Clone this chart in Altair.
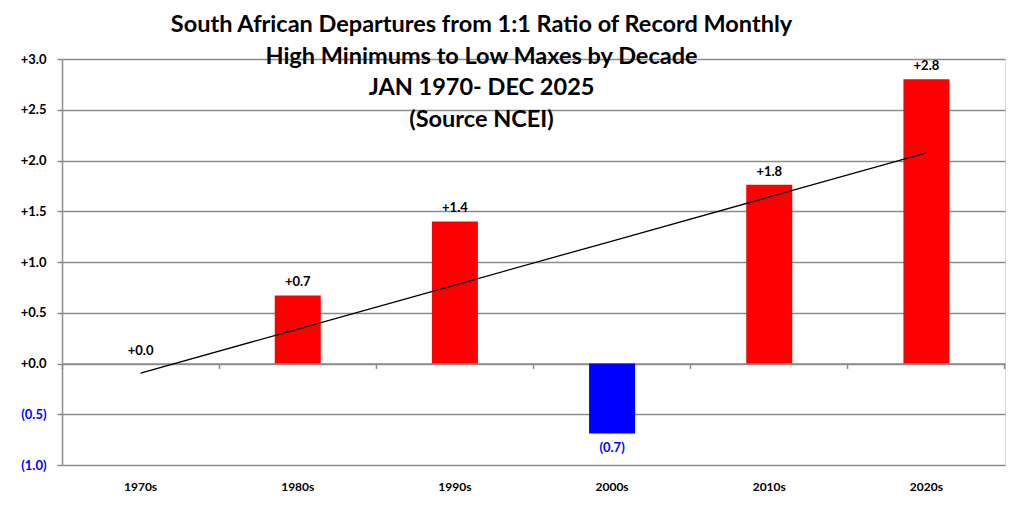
import altair as alt
import pandas as pd
import numpy as np

decades = ["1970s", "1980s", "1990s", "2000s", "2010s", "2020s"]
values = [0.0, 0.67, 1.40, -0.69, 1.76, 2.80]
y_ticks = [-1.0, -0.5, 0.0, 0.5, 1.0, 1.5, 2.0, 2.5, 3.0]
title_lines = [
    "South African Departures from 1:1 Ratio of Record Monthly",
    "High Minimums to Low Maxes by Decade",
    "JAN 1970- DEC 2025",
    "(Source NCEI)",
]

idx = np.arange(len(values))
slope, intercept = np.polyfit(idx, values, 1)
trend = (intercept + slope * idx).tolist()

df = pd.DataFrame({"decade": decades, "value": values, "trend": trend})

W, H = 943, 406
FONT = "Lato"
GRID = "#8c8c8c"

x_scale = alt.Scale(paddingInner=0, paddingOuter=0)
y_scale = alt.Scale(domain=[-1, 3], nice=False, zero=False)

x_label_axis = alt.Axis(
    title=None, labelAngle=0, ticks=False, domain=False, grid=False,
    labelFont=FONT, labelFontSize=12, labelFontWeight="bold",
    labelColor="black", labelPadding=16, orient="bottom",
)
x_tick_axis = alt.Axis(
    title=None, labels=False, ticks=True, tickSize=5, tickColor=GRID,
    tickWidth=1.5, bandPosition=1, tickExtra=True, domain=True,
    domainColor=GRID, domainWidth=1.5, grid=False, offset=-H / 4,
    orient="bottom",
)
y_axis = alt.Axis(
    title=None, values=y_ticks, grid=True, gridColor=GRID, gridWidth=1.5,
    domainColor=GRID, domainWidth=1.5, tickColor=GRID, tickWidth=1.5,
    tickSize=5, labelPadding=11, labelFont=FONT, labelFontSize=13,
    labelFontWeight="bold",
    labelExpr="datum.value < 0 ? '(' + format(-datum.value, '.1f') + ')' : '+' + format(datum.value, '.1f')",
    labelColor={"condition": {"test": "datum.value < 0", "value": "#0000FF"}, "value": "black"},
)

base = alt.Chart(df)

bars = base.mark_bar(size=46).encode(
    x=alt.X("decade:N", sort=decades, scale=x_scale, axis=x_label_axis),
    y=alt.Y("value:Q", scale=y_scale, axis=y_axis),
    y2=alt.datum(0),
    color=alt.condition("datum.value < 0", alt.value("#0000FF"), alt.value("#FF0000")),
)

line = base.mark_line(color="black", strokeWidth=1.3).encode(
    x=alt.X("decade:N", sort=decades, scale=x_scale, axis=x_tick_axis),
    y=alt.Y("trend:Q", scale=y_scale, title=None),
)

pos_labels = base.transform_filter("datum.value >= 0").transform_calculate(
    label="'+' + format(datum.value, '.1f')"
).mark_text(
    baseline="bottom", dy=-6, font=FONT, fontSize=13, fontWeight="bold", color="black"
).encode(
    x=alt.X("decade:N", sort=decades, scale=x_scale, axis=None),
    y=alt.Y("value:Q", scale=y_scale, title=None),
    text="label:N",
)

neg_labels = base.transform_filter("datum.value < 0").transform_calculate(
    label="'(' + format(-datum.value, '.1f') + ')'"
).mark_text(
    baseline="top", dy=8, font=FONT, fontSize=13, fontWeight="bold", color="#0000FF"
).encode(
    x=alt.X("decade:N", sort=decades, scale=x_scale, axis=None),
    y=alt.Y("value:Q", scale=y_scale, title=None),
    text="label:N",
)

chart = alt.layer(bars, line, pos_labels, neg_labels).resolve_axis(
    x="independent"
).properties(
    width=W, height=H,
    autosize="none",
    padding={"left": 54, "top": 51, "right": 11, "bottom": 42},
    title=alt.TitleParams(
        text=title_lines, font=FONT, fontSize=23.5, fontWeight="bold",
        color="black", anchor="middle", offset=-78, dx=-52, lineHeight=31.5,
    ),
).configure_view(stroke=None).configure(background="white")

chart.save("out.html", embed_options={"renderer": "svg", "actions": False})
